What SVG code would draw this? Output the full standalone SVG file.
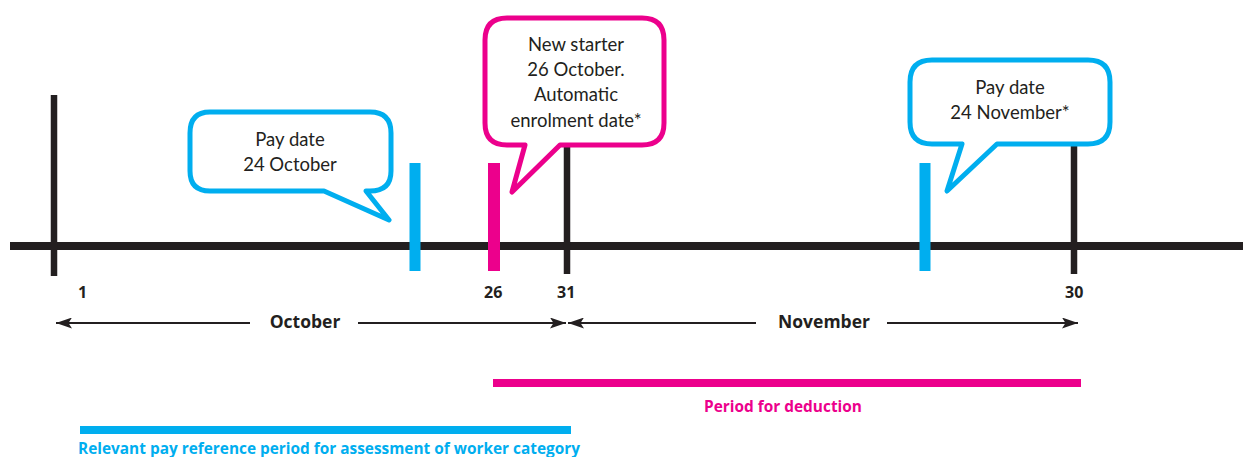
<svg xmlns="http://www.w3.org/2000/svg" width="1243" height="457" viewBox="0 0 1243 457">
<defs>
<style>
.blk{stroke:#231F20;fill:none}
.tick{stroke:#231F20;stroke-width:6.5}
.bub{fill:#fff;stroke-width:5;stroke-linejoin:round}
.b{stroke:#00AEEF}
.p{stroke:#EC008C}
.bt{font-family:Lato,"Open Sans",sans-serif;font-size:18.5px;fill:#231F20;text-anchor:middle}
.lab{font-family:"Open Sans","Noto Sans",sans-serif;font-weight:bold;font-size:16px;fill:#231F20}
.mon{font-family:"Open Sans","Noto Sans",sans-serif;font-weight:bold;font-size:17.5px;fill:#231F20;text-anchor:middle}
.cap{font-family:"Open Sans","Noto Sans",sans-serif;font-weight:bold;font-size:15.4px}
</style>
<marker id="ah" viewBox="0 0 16 11" refX="16" refY="5.5" markerWidth="16" markerHeight="11" markerUnits="userSpaceOnUse" orient="auto-start-reverse">
<path d="M0,0 L16,5.5 L0,11 L3.5,5.5 Z" fill="#231F20"/>
</marker>
</defs>
<g id="connectors">
<line class="blk" x1="10" y1="246" x2="1243" y2="246" stroke-width="8"/>
<line class="tick" x1="54" y1="95" x2="54" y2="276"/>
<line class="tick" x1="567" y1="140" x2="567" y2="274"/>
<line class="tick" x1="1074" y1="140" x2="1074" y2="274"/>
<line x1="415" y1="163" x2="415" y2="271" stroke="#00AEEF" stroke-width="11"/>
<line x1="494" y1="163" x2="494" y2="271" stroke="#EC008C" stroke-width="12"/>
<line x1="925" y1="163" x2="925" y2="271" stroke="#00AEEF" stroke-width="11"/>
<line class="blk" stroke-width="2" x1="56" y1="323" x2="250" y2="323" marker-start="url(#ah)"/>
<line class="blk" stroke-width="2" x1="358" y1="323" x2="566" y2="323" marker-end="url(#ah)"/>
<line class="blk" stroke-width="2" x1="568" y1="323" x2="756" y2="323" marker-start="url(#ah)"/>
<line class="blk" stroke-width="2" x1="887" y1="323" x2="1078" y2="323" marker-end="url(#ah)"/>
<line x1="493" y1="383" x2="1081" y2="383" stroke="#EC008C" stroke-width="8"/>
<line x1="80" y1="430" x2="571" y2="430" stroke="#00AEEF" stroke-width="8"/>
</g>
<g id="labels">
<text class="lab" x="78" y="298">1</text>
<text class="lab" x="484" y="298">26</text>
<text class="lab" x="557" y="298">31</text>
<text class="lab" x="1065" y="298">30</text>
<text class="mon" x="305" y="328">October</text>
<text class="mon" x="824" y="328">November</text>
<text class="cap" x="783" y="412" fill="#EC008C" text-anchor="middle">Period for deduction</text>
<text class="cap" x="78" y="454" fill="#00AEEF">Relevant pay reference period for assessment of worker category</text>
</g>
<g id="bubble-oct">
<path class="bub b" d="M210,112 H370 Q391,112 391,133 V171 Q391,191 370,191 H366 L389,220 L324,191 H210 Q190,191 190,171 V133 Q190,112 210,112 Z"/>
<text class="bt" x="290" y="146">Pay date</text>
<text class="bt" x="290" y="171">24 October</text>
</g>
<g id="bubble-new">
<path class="bub p" d="M507,18 H642 Q664,18 664,40 V123 Q664,145 642,145 H560 L512,192 L525,145 H507 Q485,145 485,123 V40 Q485,18 507,18 Z"/>
<text class="bt" x="576" y="51">New starter</text>
<text class="bt" x="576" y="76">26 October.</text>
<text class="bt" x="576" y="101">Automatic</text>
<text class="bt" x="576" y="127">enrolment date*</text>
</g>
<g id="bubble-nov">
<path class="bub b" d="M932,60 H1088 Q1110,60 1110,82 V122 Q1110,144 1088,144 H997 L947,191 L962,144 H932 Q910,144 910,122 V82 Q910,60 932,60 Z"/>
<text class="bt" x="1010" y="94">Pay date</text>
<text class="bt" x="1010" y="119">24 November*</text>
</g>
</svg>
